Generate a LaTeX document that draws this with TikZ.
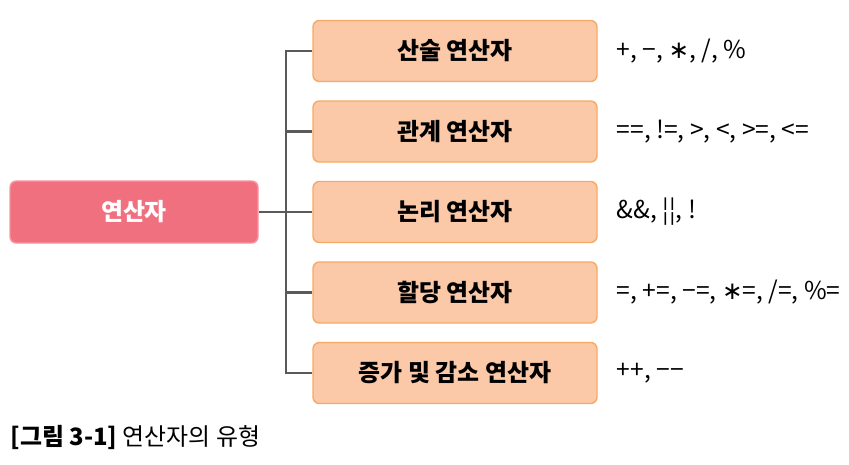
\documentclass[tikz,border=0pt]{standalone}
\usepackage{fontspec}
\setmainfont{Noto Sans CJK KR}
\newfontfamily\symfont{DejaVu Sans}
\newcommand{\opstar}{{\symfont ∗}}
\definecolor{mainred}{RGB}{240,112,128}
\definecolor{mainedge}{RGB}{246,150,160}
\definecolor{subfill}{RGB}{251,200,168}
\definecolor{subedge}{RGB}{246,170,100}
\definecolor{linkgray}{RGB}{90,90,90}
\tikzset{
  mainbox/.style={fill=mainred, draw=mainedge, line width=0.4pt, rounded corners=1.8pt,
    minimum width=2.48cm, minimum height=0.62cm, text=white, font=\fontsize{6.8}{8}\selectfont\bfseries},
  subbox/.style={fill=subfill, draw=subedge, line width=0.4pt, rounded corners=1.8pt,
    minimum width=2.84cm, minimum height=0.61cm, text=black, font=\fontsize{6.8}{8}\selectfont\bfseries},
  optext/.style={anchor=west, inner sep=0pt, font=\fontsize{7.0}{8}\selectfont},
  link/.style={draw=linkgray, line width=0.6pt}
}
\begin{document}
\begin{tikzpicture}

    \useasboundingbox (0,0) rectangle (8.49,4.64);

    \node[mainbox] (main) at (1.34,2.52) {연산자};
    \coordinate (hub) at (2.86,2.52);

    \foreach \i/\y/\name/\ops in {
        1/4.13/산술 연산자/{+, −, \opstar, /, \%},
        2/3.325/관계 연산자/{==, !=, >, <, >=, <=},
        3/2.52/논리 연산자/{\&\&, ¦¦, !},
        4/1.715/할당 연산자/{=, +=, −=, \opstar=, /=, \%=},
        5/0.91/증가 및 감소 연산자/{++, −−}} {
        \node[subbox] (b\i) at (4.55,\y) {\name};
        \node[optext] (op\i) at (6.16,\y) {\ops};
    }

    \draw[link] (main.east) -- (hub);
    \draw[link] (b1.west) -| (hub);
    \draw[link] (b5.west) -| (hub);
    \foreach \i in {2,3,4} \draw[link] (b\i.west) -- (b\i.west -| hub);

    \node[anchor=west, inner sep=0pt, font=\fontsize{6.8}{8}\selectfont] (caption) at (0.10,0.27)
        {\textbf{[그림 3-1]} 연산자의 유형};

\end{tikzpicture}
\end{document}
